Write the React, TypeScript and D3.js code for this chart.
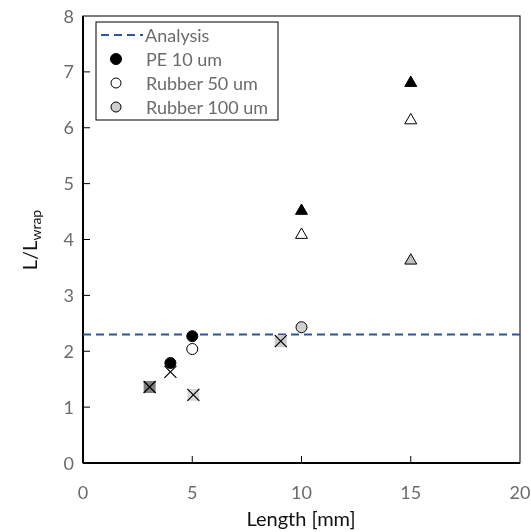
import React from "react";
import * as d3 from "d3";

// chart data
const xTicks = [0, 5, 10, 15, 20];
const yTicks = [0, 1, 2, 3, 4, 5, 6, 7, 8];
const analysisLevel = 2.3;

const peCircles = [{ x: 4, y: 1.79 }, { x: 5, y: 2.27 }];
const rubber50Circles = [{ x: 5, y: 2.04 }];
const rubber100Circles = [{ x: 10, y: 2.43 }];

const peTriangles = [{ x: 10, y: 4.53 }, { x: 15, y: 6.82 }];
const rubber50Triangles = [{ x: 10, y: 4.1 }, { x: 15, y: 6.15 }];
const rubber100Triangles = [{ x: 15, y: 3.64 }];

// crossed points: fill "none" means a bare cross
const crossPoints = [
  { x: 3.05, y: 1.36, fill: "#7f7f7f" },
  { x: 4, y: 1.63, fill: "none" },
  { x: 5.05, y: 1.22, fill: "#d9d9d9" },
  { x: 9.05, y: 2.18, fill: "#cccccc" },
];

const legendItems = ["Analysis", "PE 10 um", "Rubber 50 um", "Rubber 100 um"];

const W = 531;
const H = 532;
const margin = { top: 16, right: 11, bottom: 69, left: 83 };
const font = "Lato, 'Open Sans', sans-serif";

const App = () => {
  const x = d3.scaleLinear().domain([0, 20]).range([margin.left, W - margin.right]);
  const y = d3.scaleLinear().domain([0, 8]).range([H - margin.bottom, margin.top]);

  const tri = d3.symbol().type(d3.symbolTriangle).size(62)();
  const r = 5.5;

  const circle = (p, fill, i) => (
    <circle key={i} cx={x(p.x)} cy={y(p.y)} r={r} fill={fill} stroke="#000" strokeWidth={1} />
  );
  const triangle = (p, fill, i) => (
    <path key={i} d={tri} transform={`translate(${x(p.x)},${y(p.y) + 1})`} fill={fill} stroke="#000" strokeWidth={1} />
  );

  const legendY = (i) => 35 + i * 24;

  return (
    <svg width={W} height={H} style={{ position: "absolute", left: 0, top: 0, background: "#fff", willChange: "transform" }} fontFamily={font}>
      {/* plot frame */}
      <rect x={margin.left} y={margin.top} width={W - margin.left - margin.right} height={H - margin.top - margin.bottom}
        fill="none" stroke="#262626" strokeWidth={1.2} />
      <line x1={margin.left} x2={W - margin.right} y1={y(0)} y2={y(0)} stroke="#000" strokeWidth={2} />
      <line x1={margin.left} x2={margin.left} y1={y(0)} y2={y(8)} stroke="#000" strokeWidth={2} />

      {/* ticks */}
      {xTicks.map((t) => (
        <g key={"x" + t}>
          {t > 0 && t < 20 && <line x1={x(t)} x2={x(t)} y1={y(0)} y2={y(0) - 7} stroke="#000" strokeWidth={1} />}
          <text x={x(t)} y={y(0) + 36} textAnchor="middle" fontSize={18} fill="#6b6b6b">{t}</text>
        </g>
      ))}
      {yTicks.map((t) => (
        <g key={"y" + t}>
          {t > 0 && t < 8 && <line x1={margin.left} x2={margin.left + 7} y1={y(t)} y2={y(t)} stroke="#000" strokeWidth={1} />}
          <text x={margin.left - 9} y={y(t) + 6.5} textAnchor="end" fontSize={18} fill="#6b6b6b">{t}</text>
        </g>
      ))}

      {/* axis titles */}
      <text x={301} y={526} textAnchor="middle" fontSize={20} fill="#111">Length [mm]</text>
      <text transform="translate(37,240) rotate(-90)" textAnchor="middle" fontSize={20} fill="#111">
        L/L<tspan fontSize={14} dy={4}>wrap</tspan>
      </text>

      {/* analysis line */}
      <line x1={margin.left} x2={W - margin.right} y1={y(analysisLevel)} y2={y(analysisLevel)}
        stroke="#2f5597" strokeWidth={2} strokeDasharray="8,5" />

      {/* crossed points */}
      {crossPoints.map((p, i) => {
        const cx = x(p.x), cy = y(p.y), s = 6;
        return (
          <g key={"c" + i}>
            {p.fill !== "none" && <rect x={cx - s} y={cy - s} width={2 * s} height={2 * s} fill={p.fill} />}
            <path d={`M${cx - s},${cy - s}L${cx + s},${cy + s}M${cx + s},${cy - s}L${cx - s},${cy + s}`} stroke="#000" strokeWidth={1.2} />
          </g>
        );
      })}

      {peCircles.map((p, i) => circle(p, "#000", "pc" + i))}
      {rubber50Circles.map((p, i) => circle(p, "#fff", "rc" + i))}
      {rubber100Circles.map((p, i) => circle(p, "#d0d0d0", "gc" + i))}
      {peTriangles.map((p, i) => triangle(p, "#000", "pt" + i))}
      {rubber50Triangles.map((p, i) => triangle(p, "#fff", "rt" + i))}
      {rubber100Triangles.map((p, i) => triangle(p, "#c0c0c0", "gt" + i))}

      {/* legend */}
      <rect x={96} y={22} width={182} height={98} fill="#fff" stroke="#000" strokeWidth={1} />
      <line x1={101} x2={143} y1={legendY(0)} y2={legendY(0)} stroke="#2f5597" strokeWidth={2} strokeDasharray="8,5" />
      <circle cx={116} cy={legendY(1)} r={r} fill="#000" stroke="#000" />
      <circle cx={116} cy={legendY(2)} r={r - 0.5} fill="#fff" stroke="#000" />
      <circle cx={116} cy={legendY(3)} r={r - 0.5} fill="#d0d0d0" stroke="#000" />
      {legendItems.map((t, i) => (
        <text key={t} x={i === 0 ? 145 : 146} y={legendY(i) + 6.5} fontSize={18} fill="#6b6b6b">{t}</text>
      ))}
    </svg>
  );
};

export default App;
